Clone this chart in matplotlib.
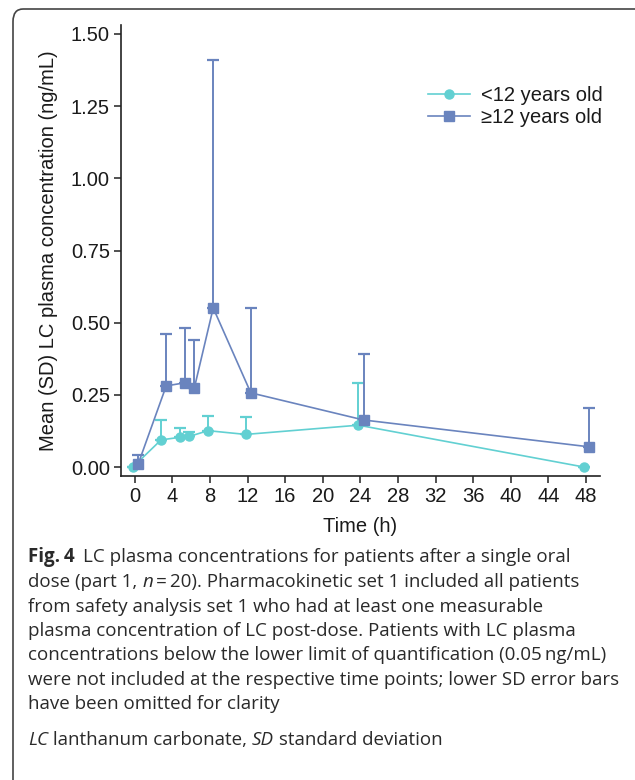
import matplotlib.pyplot as plt
import numpy as np
from matplotlib.patches import FancyBboxPatch

# nominal sampling times (h) and dodge offsets used in the plot
times = np.array([0, 3, 5, 6, 8, 12, 24, 48])
dodge_young = -0.2
dodge_old = 0.35

# mean and upper SD (absolute top of the bar)
young_mean = np.array([0.0, 0.094, 0.103, 0.106, 0.126, 0.113, 0.145, 0.0])
young_top = np.array([0.0, 0.163, 0.136, 0.122, 0.177, 0.174, 0.292, 0.0])
old_mean = np.array([0.009, 0.281, 0.292, 0.275, 0.551, 0.257, 0.163, 0.070])
old_top = np.array([0.043, 0.460, 0.483, 0.441, 1.410, 0.552, 0.392, 0.203])

labels = ["<12 years old", "\u226512 years old"]
xticks = np.arange(0, 49, 4)
yticks = [0.0, 0.25, 0.5, 0.75, 1.0, 1.25, 1.5]

c_young = "#62D0D2"
c_old = "#6A84BE"

W, H = 635, 780
fig = plt.figure(figsize=(W / 100, H / 100), dpi=100)

# frame round the figure (only top and left visible)
frame = FancyBboxPatch((13 / W, -0.05), 1.2, 1 - 9 / H + 0.05,
                       boxstyle="round,pad=0,rounding_size=0.016",
                       transform=fig.transFigure, fill=False,
                       edgecolor="#444444", linewidth=1.2)
fig.patches.append(frame)

ax = fig.add_axes([121 / W, 1 - 476 / H, (600 - 121) / W, (476 - 25) / H])

tick_font = dict(family="Liberation Sans", size=14.5, color="#1a1a1a")

ax.errorbar(times + dodge_young, young_mean,
            yerr=[np.zeros_like(young_mean), young_top - young_mean],
            fmt="none", ecolor=c_young, elinewidth=1.4, capsize=4.5, capthick=1.6, zorder=2)
ax.plot(times + dodge_young, young_mean, color=c_young, lw=1.2, marker="o",
        ms=6.5, mec=c_young, label=labels[0], zorder=3)

ax.errorbar(times + dodge_old, old_mean,
            yerr=[np.zeros_like(old_mean), old_top - old_mean],
            fmt="none", ecolor=c_old, elinewidth=1.4, capsize=4.5, capthick=1.6, zorder=2)
ax.plot(times + dodge_old, old_mean, color=c_old, lw=1.2, marker="s",
        ms=7, mec=c_old, label=labels[1], zorder=3)

ax.set_xlim(-1.46, 49.5)
ax.set_ylim(-0.031, 1.531)
ax.set_xticks(xticks)
ax.set_yticks(yticks)
ax.set_xticklabels([str(t) for t in xticks], fontdict=tick_font)
ax.set_yticklabels([f"{v:.2f}" for v in yticks], fontdict=tick_font)
ax.tick_params(direction="out", length=5, width=1.1, color="#222222", pad=3)
for s in ["top", "right"]:
    ax.spines[s].set_visible(False)
for s in ["left", "bottom"]:
    ax.spines[s].set_linewidth(1.2)
    ax.spines[s].set_color("#222222")

ax.set_xlabel("Time (h)", fontdict=tick_font, labelpad=8)
ax.set_ylabel("Mean (SD) LC plasma concentration (ng/mL)", fontdict=tick_font, labelpad=9)

leg = ax.legend(loc="upper left", bbox_to_anchor=(0.64, (476 - 86) / 451),
                borderaxespad=0, borderpad=0, frameon=False,
                prop=dict(family="Liberation Sans", size=14.5),
                handlelength=2.1, handletextpad=0.55, labelspacing=0.15)
for txt in leg.get_texts():
    txt.set_color("#1a1a1a")

# caption
cap = dict(family="Open Sans", size=13.5, color="#2a2a2a")
x0 = 28 / W
line_y = [557, 582, 607, 631, 655, 680, 704]
lines = [
    None,
    None,
    "from safety analysis set 1 who had at least one measurable",
    "plasma concentration of LC post-dose. Patients with LC plasma",
    "concentrations below the lower limit of quantification (0.05\u2009ng/mL)",
    "were not included at the respective time points; lower SD error bars",
    "have been omitted for clarity",
]
t = fig.text(x0, 1 - line_y[0] / H, "Fig.\u20094", fontweight="bold", va="center", **cap)
ax.annotate(" \u2009LC plasma concentrations for patients after a single oral",
            xy=(1, 0.5), xycoords=t, va="center", annotation_clip=False, **cap)
t2 = fig.text(x0, 1 - line_y[1] / H, "dose (part 1, ", va="center", **cap)
t3 = ax.annotate("n", xy=(1, 0.5), xycoords=t2, va="center", style="italic",
                 annotation_clip=False, **cap)
ax.annotate("\u2009=\u200920). Pharmacokinetic set 1 included all patients",
            xy=(1, 0.5), xycoords=t3, va="center", annotation_clip=False, **cap)
for y, s in zip(line_y[2:], lines[2:]):
    fig.text(x0, 1 - y / H, s, va="center", **cap)

t4 = fig.text(x0, 1 - 740 / H, "LC", style="italic", va="center", **cap)
t5 = ax.annotate(" lanthanum carbonate, ", xy=(1, 0.5), xycoords=t4, va="center",
                 annotation_clip=False, **cap)
t6 = ax.annotate("SD", xy=(1, 0.5), xycoords=t5, va="center", style="italic",
                 annotation_clip=False, **cap)
ax.annotate(" standard deviation", xy=(1, 0.5), xycoords=t6, va="center",
            annotation_clip=False, **cap)

fig.savefig("out.png", dpi=100)
